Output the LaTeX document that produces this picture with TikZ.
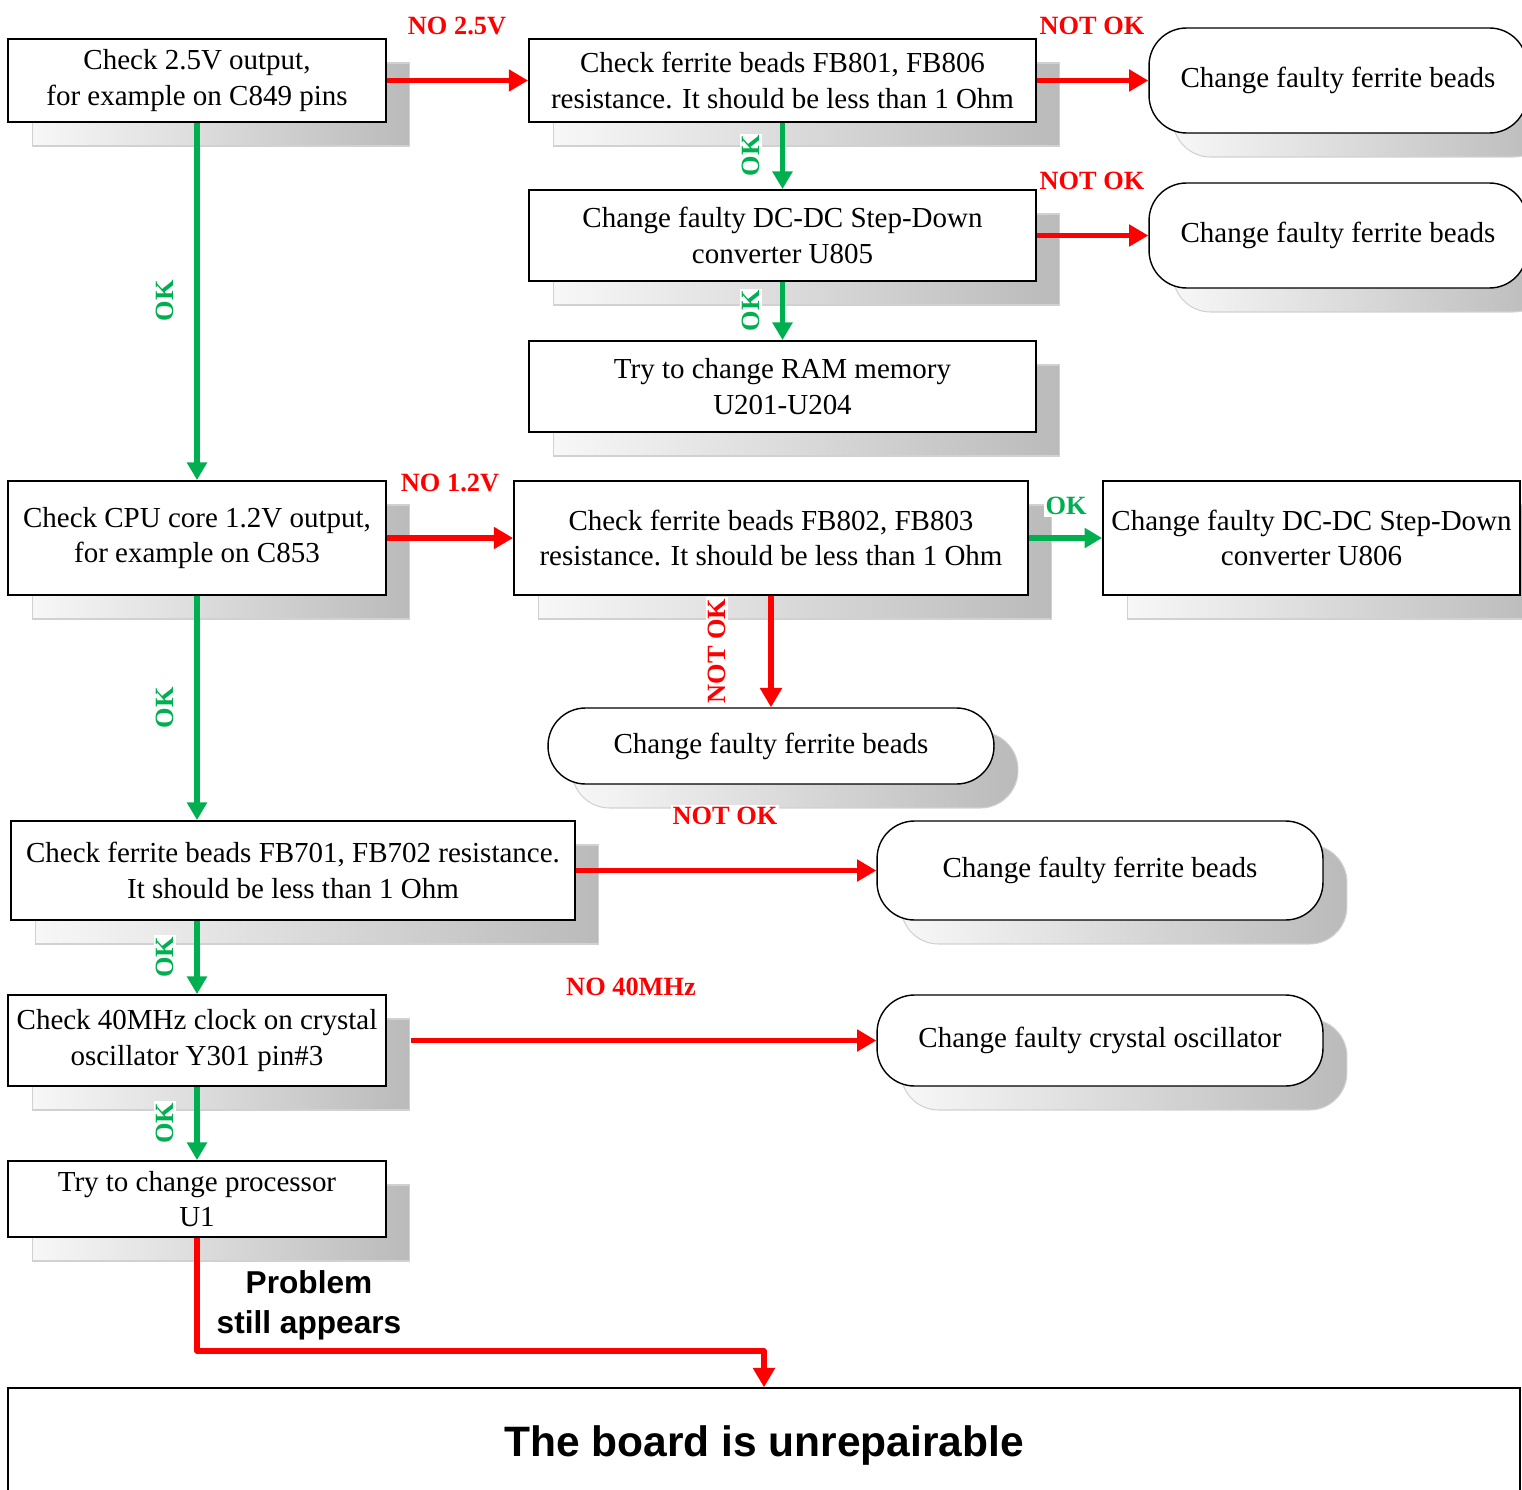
\documentclass[tikz,border=0pt]{standalone}
\usepackage{fontspec}
\setmainfont{Liberation Serif}
\newfontfamily\headfont{Liberation Sans}
\usetikzlibrary{arrows.meta,shadows}
\definecolor{okgreen}{HTML}{00B050}
\definecolor{nored}{HTML}{FF0000}
\begin{document}
\begin{tikzpicture}[x=0.02cm, y=-0.02cm,
  boxshadow/.style={general shadow={left color=black!3, right color=black!27, draw=black!18, line width=0.6pt, shadow xshift=0.48cm, shadow yshift=-0.48cm}},
  stepbox/.style={draw, line width=1.1pt, fill=white, align=center, inner sep=2pt, boxshadow, font=\fontsize{16.5}{20.3}\selectfont},
  endbox/.style={stepbox, rounded corners=0.75cm, line width=0.8pt},
  redarrow/.style={draw=nored, line width=3pt, -{Triangle[length=11pt,width=12pt]}},
  greenarrow/.style={draw=okgreen, line width=3pt, -{Triangle[length=10pt,width=11pt]}},
  nolabel/.style={text=nored, fill=white, inner sep=1pt, font=\fontsize{15}{18}\selectfont\bfseries},
  oklabel/.style={nolabel, text=okgreen}]
\useasboundingbox (0,0) rectangle (1522,1490);
\clip (0,0) rectangle (1522,1490);

\node[stepbox, minimum width=7.56cm, minimum height=1.66cm] (chkA) at (197,80.5) {Check 2.5V output,\\for example on C849 pins};
\node[stepbox, minimum width=10.14cm, minimum height=1.66cm] (fbB) at (782.5,80.5) {Check ferrite beads FB801, FB806\\resistance. It should be less than 1 Ohm};
\node[endbox, minimum width=7.56cm, minimum height=2.1cm] (chgC) at (1338,80.5) {Change faulty ferrite beads};
\node[stepbox, minimum width=10.14cm, minimum height=1.82cm] (dcD) at (782.5,235.5) {Change faulty DC-DC Step-Down\\converter U805};
\node[endbox, minimum width=7.56cm, minimum height=2.1cm] (chgD) at (1338,235.5) {Change faulty ferrite beads};
\node[stepbox, minimum width=10.14cm, minimum height=1.82cm] (ramE) at (782.5,386.5) {Try to change RAM memory\\U201-U204};

\node[stepbox, minimum width=7.56cm, minimum height=2.28cm] (cpuF) at (197,538) {Check CPU core 1.2V output,\\for example on C853};
\node[stepbox, minimum width=10.28cm, minimum height=2.28cm] (fbG) at (771,538) {Check ferrite beads FB802, FB803\\resistance. It should be less than 1 Ohm};
\node[stepbox, minimum width=8.34cm, minimum height=2.28cm] (dcH) at (1311.5,538) {Change faulty DC-DC Step-Down\\converter U806};
\node[endbox, minimum width=8.92cm, minimum height=1.52cm] (chgI) at (771,746) {Change faulty ferrite beads};

\node[stepbox, minimum width=11.28cm, minimum height=1.98cm] (fbJ) at (293,870.5) {Check ferrite beads FB701, FB702 resistance.\\It should be less than 1 Ohm};
\node[endbox, minimum width=8.92cm, minimum height=1.98cm] (chgK) at (1100,870.5) {Change faulty ferrite beads};
\node[stepbox, minimum width=7.56cm, minimum height=1.82cm] (clkL) at (197,1040.5) {Check 40MHz clock on crystal\\oscillator Y301 pin\#3};
\node[endbox, minimum width=8.92cm, minimum height=1.82cm] (chgM) at (1100,1040.5) {Change faulty crystal oscillator};
\node[stepbox, minimum width=7.56cm, minimum height=1.52cm] (procN) at (197,1199) {Try to change processor\\U1};

\node[draw, line width=0.8pt, fill=white, minimum width=30.24cm, minimum height=2.3cm, font=\headfont\fontsize{24.2}{29}\selectfont\bfseries] (board) at (764,1445.5) {The board is unrepairable};

\draw[redarrow] (chkA) -- (fbB);
\draw[redarrow] (fbB) -- (chgC);
\draw[greenarrow] (fbB) -- (dcD);
\draw[redarrow] (dcD) -- (chgD);
\draw[greenarrow] (dcD) -- (ramE);
\draw[greenarrow] (chkA) -- (cpuF);
\draw[redarrow] (cpuF) -- (fbG);
\draw[greenarrow] (fbG) -- (dcH);
\draw[redarrow] (fbG) -- (chgI);
\draw[greenarrow] (cpuF) -- (cpuF |- fbJ.north);
\draw[redarrow] (fbJ) -- (chgK);
\draw[greenarrow] (fbJ.south -| clkL) -- (clkL);
\draw[redarrow, shorten <=0.48cm] (clkL) -- (chgM);
\draw[greenarrow] (clkL) -- (procN);
\coordinate (bend) at (764,1351);
\draw[redarrow, line join=round] (procN) |- (bend) -- (board);

\node[nolabel] (no25) at (457,26) {NO 2.5V};
\node[nolabel] (nokC) at (1092,26) {NOT OK};
\node[nolabel] (nokD) at (1092,181) {NOT OK};
\node[oklabel, rotate=90] (okB) at (751,156) {OK};
\node[oklabel, rotate=90] (okD) at (751,311) {OK};
\node[oklabel, rotate=90] (okA) at (165,301) {OK};
\node[nolabel] (no12) at (450,483) {NO 1.2V};
\node[oklabel] (okG) at (1066,506) {OK};
\node[nolabel, rotate=90] (nokG) at (717,651) {NOT OK};
\node[oklabel, rotate=90] (okF) at (165,708) {OK};
\node[nolabel] (nokJ) at (725,816) {NOT OK};
\node[oklabel, rotate=90] (okJ) at (165,957) {OK};
\node[nolabel] (no40) at (631,987) {NO 40MHz};
\node[oklabel, rotate=90] (okL) at (165,1123) {OK};
\node[align=center, font=\headfont\fontsize{18}{22.7}\selectfont\bfseries] (still) at (309,1305) {Problem\\still appears};
\end{tikzpicture}
\end{document}
